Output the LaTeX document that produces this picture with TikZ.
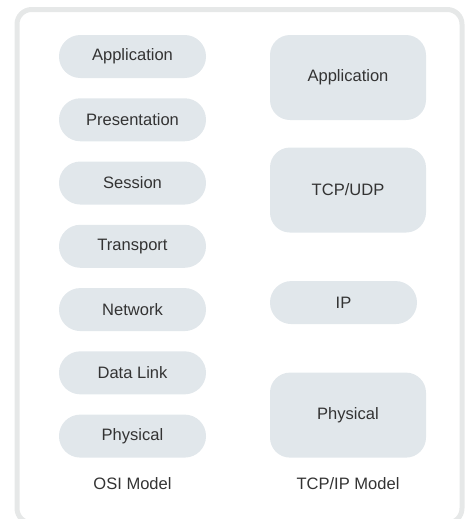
\documentclass[tikz,border=0pt]{standalone}
\usepackage{fontspec}
\setmainfont{Liberation Sans}
\usetikzlibrary{positioning,chains}
\definecolor{layerfill}{HTML}{E1E7EB}
\definecolor{framegray}{HTML}{E6E8E8}
\definecolor{labeltext}{HTML}{333333}
\tikzset{
	layerfont/.style={font=\fontsize{12.4}{14}\selectfont},
	osilayer/.style={
		rectangle,
		rounded corners=16pt,
		fill=layerfill,
		text=labeltext,
		minimum width=110.25pt,
		minimum height=32.25pt,
		text centered,
		layerfont,
		on chain},
	tcplayer/.style={
		rectangle,
		rounded corners=15pt,
		fill=layerfill,
		text=labeltext,
		minimum width=117pt,
		minimum height=63.75pt,
		text centered,
		layerfont},
	iplayer/.style={
		tcplayer,
		rounded corners=16pt,
		minimum width=110.25pt,
		minimum height=32.25pt},
	modelname/.style={text=labeltext, layerfont},
}

\begin{document}
\begin{tikzpicture}
[x=0.75pt, y=-0.75pt,
node distance=14.8pt,
start chain=going below,]
\useasboundingbox (0,0) rectangle (472,519);
\draw[framegray, line width=3.75pt, rounded corners=11pt] (17,9.5) rectangle (462,523);

% OSI column
\node[osilayer] (osiapp) at (132.5,56.5) {Application};
\node[osilayer] (osipres) {Presentation};
\node[osilayer] (osisess) {Session};
\node[osilayer] (ositrans) {Transport};
\node[osilayer] (osinet) {Network};
\node[osilayer] (osilink) {Data Link};
\node[osilayer] (osiphys) {Physical};

% TCP/IP column
\node[tcplayer] (tcpapp) at (348,77.5) {Application};
\node[tcplayer, below=20.25pt of tcpapp] (tcpudp) {TCP/UDP};
\node[iplayer, below=36pt of tcpudp.south west, anchor=north west] (tcpip) {IP};
\node[tcplayer, below=36pt of tcpip.south west, anchor=north west] (tcpphys) {Physical};

\node[modelname] (osiname) at (132.5,484) {OSI Model};
\node[modelname] (tcpname) at (348,484) {TCP/IP Model};

\end{tikzpicture}
\end{document}
